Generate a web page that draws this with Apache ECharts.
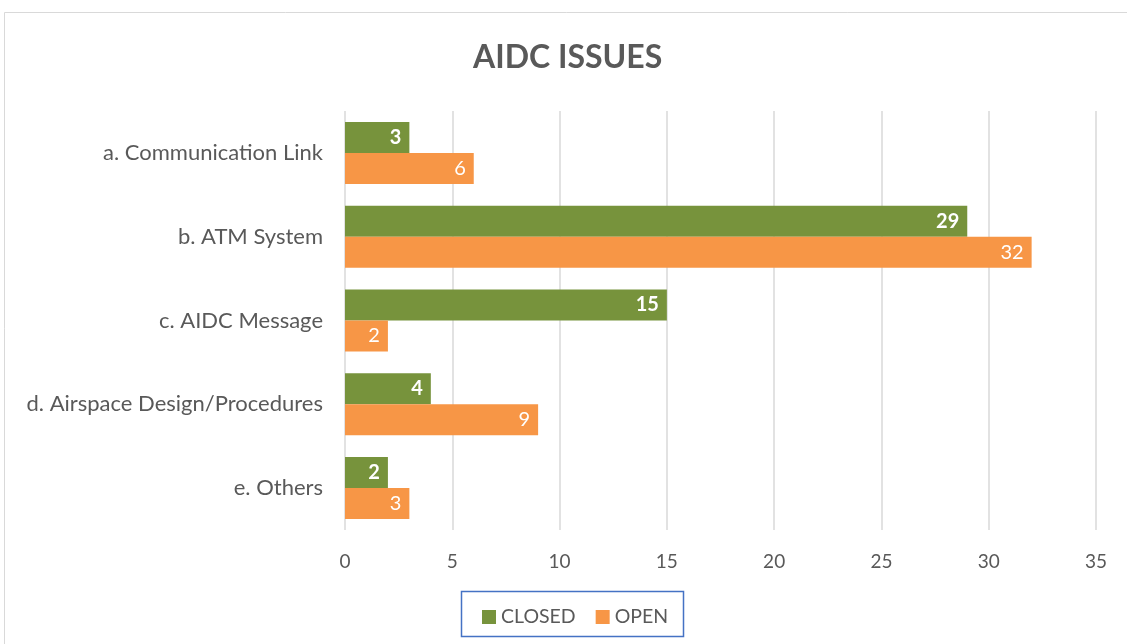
<!DOCTYPE html>
<html><head><meta charset="utf-8">
<script src="https://cdn.jsdelivr.net/npm/echarts@6/dist/echarts.min.js"></script>
<style>html,body{margin:0;padding:0;background:#fff}#c{width:1127px;height:644px}</style>
</head><body><div id="c"></div>
<script>
const categories = ['a. Communication Link','b. ATM System','c. AIDC Message','d. Airspace Design/Procedures','e. Others'];
const closedValues = [3, 29, 15, 4, 2];
const openValues = [6, 32, 2, 9, 3];
const xTicks = [0, 5, 10, 15, 20, 25, 30, 35];

const FONT = 'Lato, "Open Sans", sans-serif';
const chart = echarts.init(document.getElementById('c'), null, {renderer: 'canvas'});
chart.setOption({
  backgroundColor: '#fff',
  animation: false,
  graphic: [
    {type: 'rect', shape: {x: 4.5, y: 12.5, width: 1140, height: 650}, style: {fill: 'none', stroke: '#d9d9d9', lineWidth: 1}, silent: true},
    {type: 'rect', shape: {x: 461.5, y: 591.5, width: 222, height: 45}, style: {fill: '#fff', stroke: '#4472C4', lineWidth: 1.5}, silent: true, z: 0}
  ],
  title: {
    text: 'AIDC ISSUES', left: 468, top: 37,
    textStyle: {fontFamily: FONT, fontSize: 32, fontWeight: 'bold', color: '#595959'}
  },
  legend: {
    data: ['CLOSED', 'OPEN'], left: 477, top: 602, itemWidth: 14, itemHeight: 14, itemGap: 20,
    icon: 'rect', z: 10,
    textStyle: {fontFamily: FONT, fontSize: 19.5, color: '#595959'}
  },
  grid: {left: 345, right: 31, top: 111, bottom: 114, containLabel: false},
  xAxis: {
    type: 'value', min: 0, max: 35, interval: 5,
    axisLine: {show: false}, axisTick: {show: false},
    splitLine: {show: true, lineStyle: {color: '#d9d9d9', width: 1.5}},
    axisLabel: {fontFamily: FONT, fontSize: 19, color: '#595959', margin: 22,
      formatter: v => xTicks.includes(v) ? String(v) : ''}
  },
  yAxis: {
    type: 'category', data: categories, inverse: true,
    axisLine: {show: false}, axisTick: {show: false},
    axisLabel: {fontFamily: FONT, fontSize: 22, color: '#595959', margin: 22}
  },
  series: [
    {name: 'CLOSED', type: 'bar', data: closedValues, barGap: '0%', barCategoryGap: '26%',
      itemStyle: {color: '#77933C'},
      label: {show: true, position: 'insideRight', color: '#fff', fontFamily: FONT, fontSize: 20, fontWeight: 'bold', distance: 8}},
    {name: 'OPEN', type: 'bar', data: openValues, barGap: '0%', barCategoryGap: '26%',
      itemStyle: {color: '#F79646'},
      label: {show: true, position: 'insideRight', color: '#fff', fontFamily: FONT, fontSize: 20, distance: 8}}
  ]
});
</script></body></html>
